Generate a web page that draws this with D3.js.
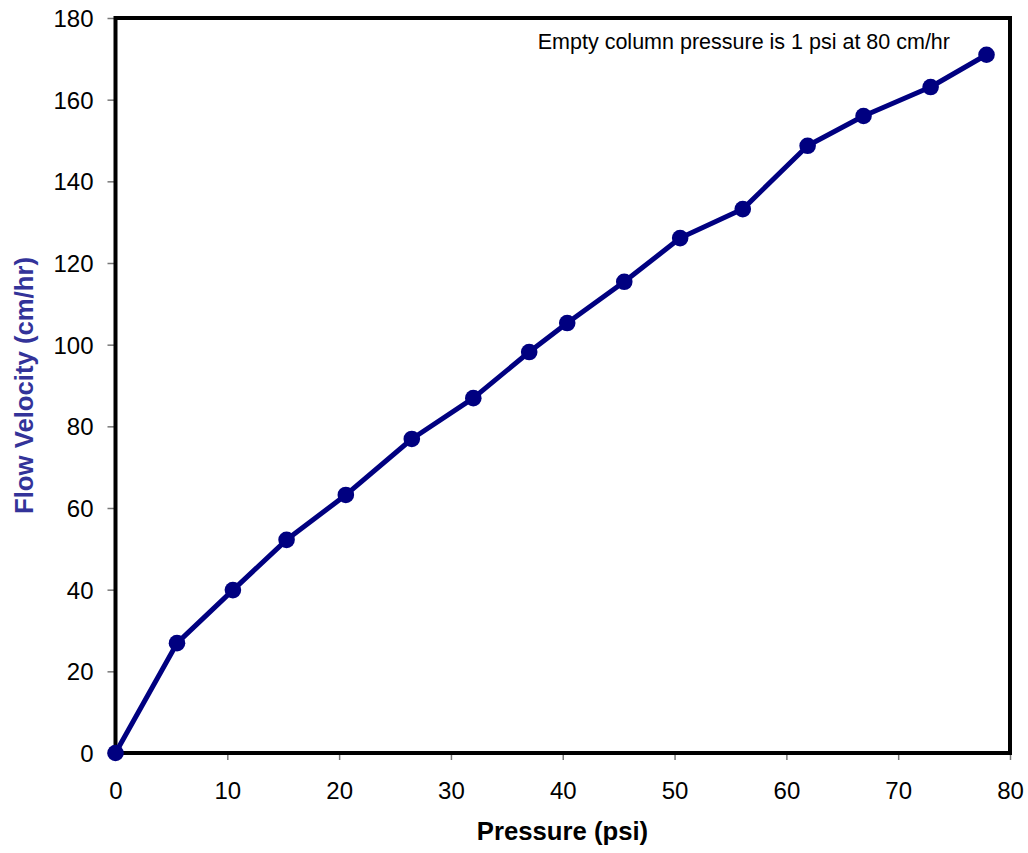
<!DOCTYPE html>
<html><head><meta charset="utf-8">
<script src="https://cdn.jsdelivr.net/npm/d3@7"></script>
<style>body{margin:0;background:#fff;} text{font-family:"Liberation Sans",Arial,sans-serif;}</style>
</head><body>
<svg id="c" width="1028" height="853"></svg>
<script>
const pressure = [0, 5.5, 10.5, 15.3, 20.6, 26.5, 32.0, 37.0, 40.4, 45.5, 50.5, 56.1, 61.9, 66.9, 72.9, 77.9];
const velocity = [0, 26.9, 39.9, 52.2, 63.2, 76.9, 86.9, 98.2, 105.3, 115.4, 126.1, 133.2, 148.7, 156.0, 163.1, 171.0];
const xTicks = [0, 10, 20, 30, 40, 50, 60, 70, 80];
const yTicks = [0, 20, 40, 60, 80, 100, 120, 140, 160, 180];
const xTitle = "Pressure (psi)";
const yTitle = "Flow Velocity (cm/hr)";
const note = "Empty column pressure is 1 psi at 80 cm/hr";

const svg = d3.select("#c");
const L = 115.5, R = 1010, T = 18, B = 753;
const x = d3.scaleLinear().domain([0, 80]).range([L, R]);
const y = d3.scaleLinear().domain([0, 180]).range([B, T]);

const xa = svg.append("g").attr("transform", `translate(0,${B})`)
  .call(d3.axisBottom(x).tickValues(xTicks).tickSize(7).tickPadding(8));
const ya = svg.append("g").attr("transform", `translate(${L},0)`)
  .call(d3.axisLeft(y).tickValues(yTicks).tickSize(8).tickPadding(14));
[xa, ya].forEach(a => {
  a.select(".domain").remove();
  a.attr("font-size", null).attr("font-family", null);
  a.selectAll(".tick line").attr("stroke", "#777").attr("stroke-width", 1.5);
  a.selectAll(".tick text").attr("font-size", 24).attr("fill", "#000")
    .attr("font-family", "Liberation Sans, Arial, sans-serif");
});
xa.selectAll(".tick text").attr("y", 0).attr("dy", 46);
ya.selectAll(".tick text").attr("dy", "0.36em");

svg.append("rect").attr("x", L).attr("y", T).attr("width", R - L).attr("height", B - T)
  .attr("fill", "none").attr("stroke", "#000").attr("stroke-width", 4);

const data = pressure.map((p, i) => [p, velocity[i]]);
svg.append("path").datum(data)
  .attr("d", d3.line().x(d => x(d[0])).y(d => y(d[1])))
  .attr("fill", "none").attr("stroke", "#000080").attr("stroke-width", 5)
  .attr("stroke-linejoin", "round");
svg.selectAll("circle.pt").data(data).enter().append("circle")
  .attr("class", "pt").attr("cx", d => x(d[0])).attr("cy", d => y(d[1]))
  .attr("r", 8.3).attr("fill", "#000080");

svg.append("text").attr("x", 562.5).attr("y", 840).attr("text-anchor", "middle")
  .attr("font-size", 25.7).attr("font-weight", "bold").attr("fill", "#000").text(xTitle);
svg.append("text").attr("transform", `translate(33,${(T + B) / 2}) rotate(-90)`)
  .attr("text-anchor", "middle").attr("font-size", 25.7).attr("font-weight", "bold")
  .attr("fill", "#333399").text(yTitle);
svg.append("text").attr("x", 950).attr("y", 49).attr("text-anchor", "end")
  .attr("font-size", 21.5).attr("fill", "#000").text(note);
</script>
</body></html>
